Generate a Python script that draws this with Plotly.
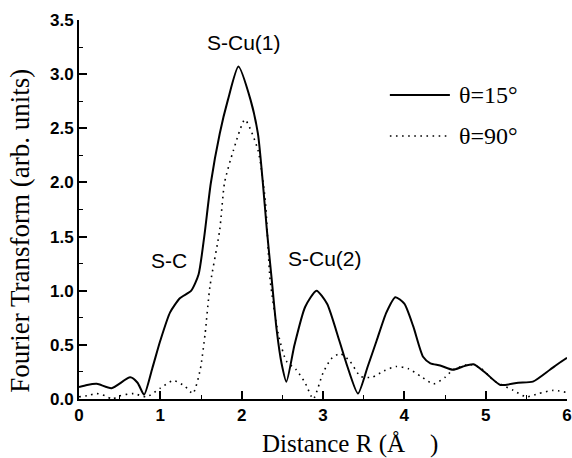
import plotly.graph_objects as go

# --- data ---
r_15 = [0, 0.1, 0.22, 0.4, 0.63, 0.72, 0.8, 0.9, 1.0, 1.12, 1.24, 1.38, 1.47, 1.54, 1.62, 1.73,
        1.83, 1.96, 2.11, 2.2, 2.26, 2.31, 2.37, 2.43, 2.49, 2.55, 2.65, 2.78, 2.92, 3.05, 3.2,
        3.3, 3.43, 3.55, 3.66, 3.78, 3.89, 4.0, 4.11, 4.23, 4.32, 4.44, 4.6, 4.72, 4.85, 5.0,
        5.18, 5.4, 5.58, 5.79, 5.9, 6.0]
ft_15 = [0.11, 0.13, 0.14, 0.10, 0.20, 0.15, 0.04, 0.28, 0.54, 0.80, 0.93, 1.0, 1.15, 1.5, 1.99, 2.45,
         2.76, 3.07, 2.76, 2.45, 2.0, 1.56, 1.1, 0.64, 0.33, 0.16, 0.5, 0.85, 1.0, 0.88, 0.54,
         0.3, 0.05, 0.3, 0.54, 0.8, 0.94, 0.88, 0.67, 0.39, 0.33, 0.31, 0.27, 0.3, 0.32, 0.24,
         0.13, 0.15, 0.16, 0.27, 0.33, 0.38]

r_90 = [0, 0.1, 0.22, 0.32, 0.41, 0.5, 0.67, 0.83, 1.0, 1.16, 1.3, 1.40, 1.49, 1.55, 1.61, 1.73,
        1.79, 1.9, 2.04, 2.2, 2.29, 2.35, 2.45, 2.55, 2.67, 2.78, 2.88, 3.0, 3.1, 3.21, 3.33,
        3.46, 3.6, 3.75, 3.9, 4.05, 4.2, 4.36, 4.5, 4.6, 4.8, 4.95, 5.1, 5.34, 5.5, 5.65, 5.83, 6.0]
ft_90 = [0.02, 0.03, 0.05, 0.03, 0.0, 0.03, 0.05, 0.02, 0.10, 0.17, 0.12, 0.05, 0.27, 0.6, 1.04, 1.56,
         2.0, 2.30, 2.58, 2.30, 1.84, 1.1, 0.6, 0.35, 0.27, 0.15, 0.0, 0.24, 0.37, 0.42, 0.35,
         0.21, 0.2, 0.26, 0.30, 0.28, 0.21, 0.14, 0.2, 0.27, 0.32, 0.28, 0.17, 0.08, 0.02, 0.05, 0.08, 0.06]

series_names = ["θ=15°", "θ=90°"]
peak_labels = ["S-Cu(1)", "S-C", "S-Cu(2)"]
peak_x = [2.03, 1.11, 3.02]
peak_y = [3.29, 1.28, 1.30]
x_ticks = [0, 1, 2, 3, 4, 5, 6]
y_ticks = [0.0, 0.5, 1.0, 1.5, 2.0, 2.5, 3.0, 3.5]

fig = go.Figure()
fig.add_trace(go.Scatter(x=r_15, y=ft_15, mode="lines", name=series_names[0],
                         line=dict(color="black", width=2, shape="spline", smoothing=0.6)))
fig.add_trace(go.Scatter(x=r_90, y=ft_90, mode="lines", name=series_names[1],
                         line=dict(color="black", width=1.6, dash="1.6px,4.5px", shape="spline", smoothing=0.6)))

for t, xx, yy in zip(peak_labels, peak_x, peak_y):
    fig.add_annotation(x=xx, y=yy, xref="x", yref="y", text=t, showarrow=False,
                       font=dict(family="Liberation Sans", size=21, color="black"))

# custom legend
leg_y = [0.802, 0.694]
leg_dash = ["solid", "1.6px,4.5px"]
leg_w = [2, 1.6]
for name, yy, d, w in zip(series_names, leg_y, leg_dash, leg_w):
    fig.add_shape(type="line", xref="paper", yref="paper", x0=0.637, x1=0.760, y0=yy, y1=yy,
                  line=dict(color="black", width=w, dash=d))
    fig.add_annotation(x=0.775, y=yy, xref="paper", yref="paper", text=name, showarrow=False,
                       xanchor="left", yanchor="middle",
                       font=dict(family="Liberation Serif", size=24, color="black"))

# axis titles
fig.add_annotation(x=0.555, y=-0.118, xref="paper", yref="paper",
                   text="Distance R (Å\u00a0\u00a0\u00a0\u00a0)", showarrow=False,
                   xanchor="center", yanchor="middle",
                   font=dict(family="Liberation Serif", size=25, color="black"))
fig.add_annotation(x=-0.12, y=0.445, xref="paper", yref="paper",
                   text="Fourier Transform (arb. units)", showarrow=False, textangle=-90,
                   xanchor="center", yanchor="middle",
                   font=dict(family="Liberation Serif", size=27, color="black"))

axis_common = dict(showline=True, linecolor="black", linewidth=2, ticks="inside",
                   tickcolor="black", tickwidth=1.5, ticklen=8, showgrid=False, zeroline=False,
                   ticklabeloverflow="allow", automargin=False,
                   tickfont=dict(family="Liberation Sans", size=17, color="black", weight="bold"))
fig.update_xaxes(range=[0, 6], tickvals=x_ticks, ticktext=[str(v) for v in x_ticks],
                 minor=dict(ticks="inside", ticklen=4, tickcolor="black", tickwidth=1.2, dtick=0.5),
                 **axis_common)
fig.update_yaxes(range=[0, 3.5], tickvals=y_ticks, ticktext=[f"{v:.1f}" for v in y_ticks],
                 minor=dict(ticks="inside", ticklen=4, tickcolor="black", tickwidth=1.2, dtick=0.25),
                 **axis_common)

fig.update_layout(width=572, height=458, margin=dict(l=79, r=5, t=20, b=59),
                  plot_bgcolor="white", paper_bgcolor="white", showlegend=False)

fig.write_html("out.html", config={"displayModeBar": False},
               post_script="document.body.style.margin='0';document.body.style.padding='0';")
